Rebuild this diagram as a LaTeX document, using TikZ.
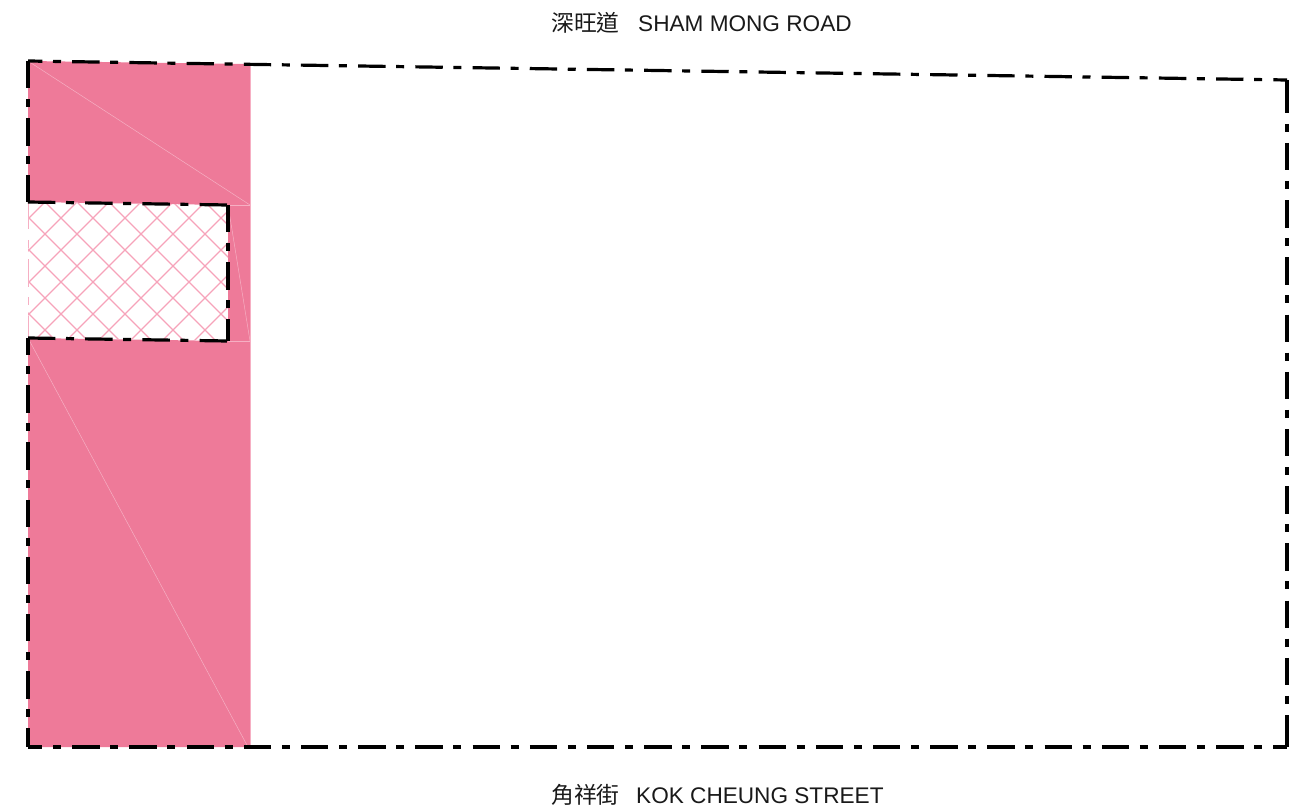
\documentclass[tikz,border=0pt]{standalone}
\usepackage{fontspec}
\setmainfont{Liberation Sans}
\newfontfamily\cjk{Noto Sans CJK TC}
\definecolor{zonepink}{HTML}{EE7A99}
\definecolor{seampink}{HTML}{F6AFC3}
\definecolor{hatchpink}{HTML}{F6A3BA}
\tikzset{
  zone/.style={fill=zonepink,draw=none},
  seam/.style={draw=seampink,line width=0.5pt},
  edgeline/.style={draw=seampink,line width=0.8pt},
  hatchline/.style={draw=hatchpink,line width=1.2pt},
  boundary/.style={draw=black,line width=3.2pt,dash pattern=on 27.4pt off 10.6pt on 8pt off 11.2pt},
  stub/.style={draw=black,line width=3.2pt},
  roadlabel/.style={font=\fontsize{22.6pt}{26pt}\selectfont,text=black!90,inner sep=0pt,anchor=base west},
  roadcjk/.style={roadlabel,font=\fontsize{22.8pt}{26pt}\selectfont\cjk},
}
\begin{document}
\begin{tikzpicture}[x=1pt,y=-1pt]
\useasboundingbox (0,0) rectangle (1297,810);
\coordinate (tl) at (28,61);
\coordinate (tr) at (1287,80);
\coordinate (br) at (1287,747);
\coordinate (bl) at (28,747);
\coordinate (n1) at (28,202);
\coordinate (n2) at (228,205);
\coordinate (n3) at (228,341);
\coordinate (n4) at (28,338);
\coordinate (e1) at (250,64);
\coordinate (e2) at (250,205);
\coordinate (e3) at (250,341);
\coordinate (e4) at (250,747);
\coordinate (s1) at (1287,86);
\coordinate (s2) at (1287,742);
% pink zones
\fill[zone] (tl) -- (e1) -- (e2) -- (n2) -- (n1) -- cycle;
\fill[zone] (n2) -- (e2) -- (e3) -- (n3) -- cycle;
\fill[zone] (n4) -- (n3) -- (e3) -- (e4) -- (bl) -- cycle;
% seams
\draw[seam] (tl) -- (e2);
\draw[seam] (n2) -- (e2);
\draw[seam] (n2) -- (e3);
\draw[seam] (n3) -- (e3);
\draw[seam] (n4) -- (248,747);
\draw[edgeline] (e1) -- (e4);
% hatch
\begin{scope}
\clip (n1) -- (n2) -- (n3) -- (n4) -- cycle;
\foreach \k in {-1,...,12}{
  \draw[hatchline] ({247+32*\k-180},180) -- ({247+32*\k-360},360);
}
\foreach \k in {-6,...,7}{
  \draw[hatchline] ({-189+32*\k+180},180) -- ({-189+32*\k+360},360);
}
\end{scope}
\draw[draw=seampink,line width=1pt,dash pattern=on 27.4pt off 10.6pt on 8pt off 11.2pt] (n1) -- (n4);
% boundary
\draw[boundary,dash phase=13pt] (tl) -- (tr);
\draw[boundary,dash phase=13pt] (bl) -- (br);
\draw[boundary] (tl) -- (n1);
\draw[boundary] (n1) -- (n2);
\draw[boundary] (n2) -- (n3);
\draw[boundary] (n4) -- (n3);
\draw[boundary,dash phase=10pt] (n4) -- (bl);
\draw[boundary,dash phase=51.4pt] (tr) -- (br);
\draw[stub] (tr) -- (s1);
\draw[stub] (s2) -- (br);
% labels
\node[roadcjk] (smc) at (551,32) {深旺道};
\node[roadlabel] (sme) at (638,32) {SHAM MONG ROAD};
\node[roadcjk] (kcc) at (551,803) {角祥街};
\node[roadlabel] (kce) at (636,803) {KOK CHEUNG STREET};
\end{tikzpicture}
\end{document}
